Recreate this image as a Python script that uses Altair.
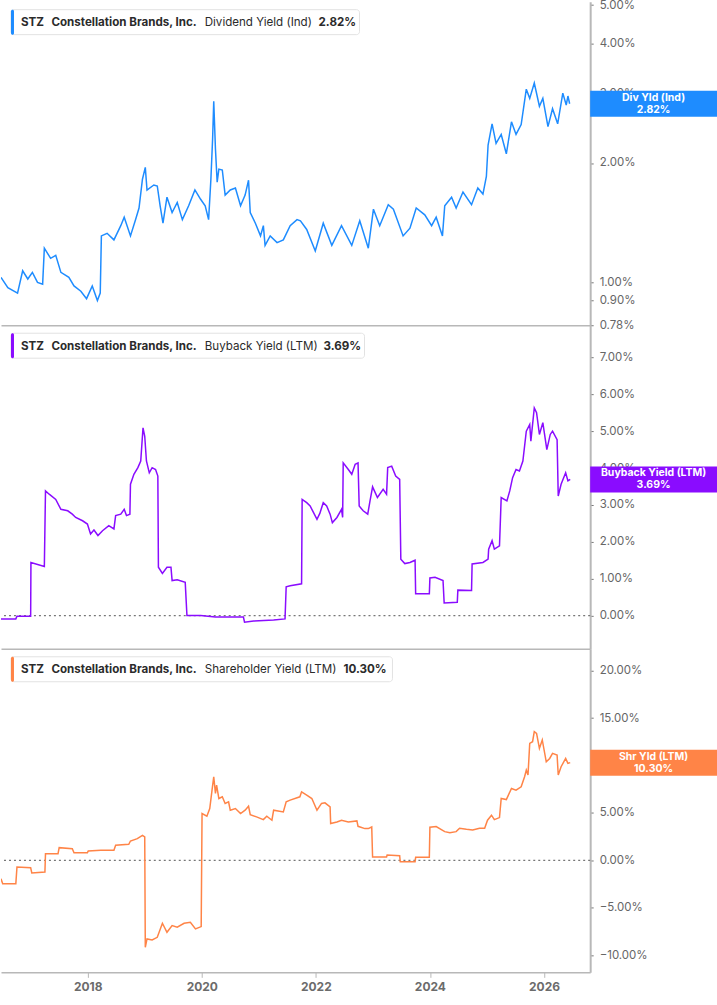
import altair as alt
import pandas as pd

# ---------------- data ----------------
TICKER = "STZ"
COMPANY = "Constellation Brands, Inc."

div_year = [2016.48, 2016.60, 2016.77, 2016.86, 2016.95, 2017.03, 2017.12, 2017.21, 2017.24, 2017.35,
            2017.44, 2017.53, 2017.67, 2017.76, 2017.88, 2017.98, 2018.08, 2018.17, 2018.22, 2018.24,
            2018.34, 2018.46, 2018.58, 2018.64, 2018.75, 2018.84, 2018.90, 2018.96, 2019.01, 2019.04,
            2019.16, 2019.22, 2019.27, 2019.32, 2019.39, 2019.48, 2019.57, 2019.66, 2019.77, 2019.88,
            2019.98, 2020.06, 2020.12, 2020.16, 2020.19, 2020.21, 2020.24, 2020.27, 2020.30, 2020.36,
            2020.41, 2020.50, 2020.59, 2020.68, 2020.76, 2020.82, 2020.85, 2020.94, 2021.03, 2021.08,
            2021.11, 2021.20, 2021.32, 2021.43, 2021.55, 2021.67, 2021.73, 2021.84, 2021.99, 2022.13,
            2022.28, 2022.45, 2022.63, 2022.77, 2022.92, 2023.01, 2023.12, 2023.27, 2023.36, 2023.53,
            2023.65, 2023.76, 2023.91, 2024.03, 2024.11, 2024.22, 2024.26, 2024.38, 2024.46, 2024.58,
            2024.73, 2024.84, 2024.93, 2024.99, 2025.02, 2025.09, 2025.16, 2025.25, 2025.34, 2025.43,
            2025.51, 2025.60, 2025.69, 2025.75, 2025.83, 2025.92, 2025.98, 2026.07, 2026.15, 2026.24,
            2026.33, 2026.39, 2026.42, 2026.45]
div_val = [1.03, 0.97, 0.94, 1.07, 1.02, 1.06, 1.00, 0.99, 1.22, 1.15,
           1.17, 1.06, 1.03, 0.98, 0.95, 0.91, 0.98, 0.90, 0.94, 1.31,
           1.33, 1.28, 1.39, 1.46, 1.31, 1.44, 1.54, 1.82, 1.95, 1.71,
           1.76, 1.75, 1.56, 1.41, 1.64, 1.50, 1.59, 1.44, 1.56, 1.71,
           1.62, 1.56, 1.44, 1.82, 2.30, 2.86, 2.17, 1.79, 1.93, 1.92,
           1.66, 1.71, 1.73, 1.56, 1.66, 1.81, 1.50, 1.41, 1.31, 1.39,
           1.24, 1.31, 1.26, 1.28, 1.39, 1.44, 1.43, 1.36, 1.20, 1.41,
           1.24, 1.39, 1.24, 1.43, 1.22, 1.53, 1.39, 1.57, 1.53, 1.31,
           1.37, 1.54, 1.48, 1.39, 1.46, 1.31, 1.56, 1.64, 1.54, 1.69,
           1.57, 1.73, 1.67, 1.85, 2.22, 2.51, 2.24, 2.36, 2.11, 2.54,
           2.36, 2.50, 3.07, 2.91, 3.18, 2.78, 2.91, 2.47, 2.74, 2.51,
           3.00, 2.80, 2.95, 2.82]

bb_year = [2016.48, 2016.74, 2016.76, 2017.00, 2017.005, 2017.24, 2017.26, 2017.325, 2017.44, 2017.53,
           2017.65, 2017.73, 2017.79, 2017.91, 2017.995, 2018.05, 2018.11, 2018.18, 2018.26, 2018.37,
           2018.46, 2018.49, 2018.58, 2018.64, 2018.68, 2018.74, 2018.75, 2018.81, 2018.88, 2018.93,
           2018.97, 2019.00, 2019.03, 2019.08, 2019.13, 2019.19, 2019.23, 2019.24, 2019.31, 2019.39,
           2019.46, 2019.48, 2019.57, 2019.71, 2019.74, 2019.98, 2020.24, 2020.73, 2020.75, 2020.91,
           2021.26, 2021.46, 2021.48, 2021.55, 2021.75, 2021.76, 2021.84, 2021.90, 2021.96, 2022.02,
           2022.07, 2022.13, 2022.19, 2022.25, 2022.29, 2022.37, 2022.45, 2022.47, 2022.48, 2022.57,
           2022.63, 2022.69, 2022.74, 2022.76, 2022.83, 2022.91, 2022.95, 2022.995, 2023.08, 2023.18,
           2023.24, 2023.26, 2023.33, 2023.40, 2023.47, 2023.49, 2023.56, 2023.65, 2023.74, 2023.75,
           2023.99, 2024.00, 2024.09, 2024.23, 2024.25, 2024.48, 2024.49, 2024.73, 2024.74, 2024.93,
           2025.02, 2025.03, 2025.09, 2025.13, 2025.22, 2025.25, 2025.35, 2025.40, 2025.45, 2025.51,
           2025.57, 2025.63, 2025.69, 2025.75, 2025.77, 2025.83, 2025.87, 2025.92, 2025.98, 2026.05,
           2026.11, 2026.15, 2026.23, 2026.25, 2026.30, 2026.38, 2026.42, 2026.46]
bb_val = [-0.09, -0.09, -0.02, -0.02, 1.44, 1.33, 3.38, 3.29, 3.15, 2.88,
          2.84, 2.75, 2.66, 2.57, 2.48, 2.21, 2.32, 2.17, 2.30, 2.44,
          2.35, 2.71, 2.75, 2.88, 2.71, 2.75, 3.56, 3.83, 4.01, 4.19,
          5.09, 4.86, 4.19, 3.87, 4.01, 3.96, 3.78, 1.31, 1.14, 1.31,
          1.31, 0.95, 0.97, 0.90, 0.00, 0.00, -0.04, -0.04, -0.18, -0.15,
          -0.12, -0.09, 0.78, 0.81, 0.86, 3.15, 3.06, 2.97, 2.79, 2.61,
          2.77, 3.06, 2.97, 2.75, 2.52, 2.66, 2.88, 2.66, 4.14, 3.96,
          3.83, 4.10, 4.14, 2.97, 2.84, 2.75, 3.11, 3.49, 3.20, 3.42,
          3.29, 4.01, 4.05, 3.78, 3.69, 1.53, 1.41, 1.44, 1.50, 0.59,
          0.59, 1.02, 1.04, 0.95, 0.34, 0.36, 0.69, 0.68, 1.40, 1.44,
          1.53, 1.80, 2.03, 1.80, 1.89, 3.20, 3.11, 3.38, 3.74, 3.96,
          3.92, 4.19, 5.00, 5.18, 4.73, 5.63, 5.50, 4.91, 5.23, 4.50,
          4.91, 5.00, 4.77, 3.24, 3.56, 3.87, 3.65, 3.69]

shr_year = [2016.48, 2016.51, 2016.74, 2016.76, 2017.00, 2017.02, 2017.25, 2017.26, 2017.48, 2017.50,
            2017.73, 2017.76, 2017.995, 2018.01, 2018.23, 2018.46, 2018.49, 2018.72, 2018.75, 2018.87,
            2018.96, 2019.00, 2019.01, 2019.04, 2019.13, 2019.22, 2019.31, 2019.39, 2019.48, 2019.57,
            2019.69, 2019.80, 2019.89, 2019.99, 2020.005, 2020.09, 2020.14, 2020.18, 2020.21, 2020.24,
            2020.26, 2020.30, 2020.36, 2020.41, 2020.47, 2020.50, 2020.59, 2020.68, 2020.76, 2020.82,
            2020.85, 2020.96, 2021.08, 2021.14, 2021.23, 2021.26, 2021.43, 2021.48, 2021.55, 2021.72,
            2021.75, 2021.84, 2021.93, 2022.02, 2022.10, 2022.16, 2022.25, 2022.26, 2022.37, 2022.45,
            2022.57, 2022.72, 2022.74, 2022.86, 2022.92, 2022.98, 2022.995, 2023.24, 2023.25, 2023.47,
            2023.48, 2023.74, 2023.75, 2023.99, 2024.00, 2024.11, 2024.26, 2024.35, 2024.46, 2024.52,
            2024.64, 2024.75, 2024.87, 2024.96, 2025.01, 2025.08, 2025.13, 2025.22, 2025.25, 2025.34,
            2025.43, 2025.51, 2025.60, 2025.66, 2025.69, 2025.72, 2025.75, 2025.80, 2025.83, 2025.87,
            2025.92, 2025.97, 2026.04, 2026.10, 2026.15, 2026.23, 2026.25, 2026.30, 2026.38, 2026.42,
            2026.46]
shr_val = [-1.94, -2.47, -2.47, -0.70, -0.77, -1.33, -1.22, 0.70, 0.70, 1.34,
           1.23, 0.81, 0.81, 0.99, 1.06, 1.06, 1.59, 1.69, 2.04, 2.29,
           2.64, 2.47, -9.16, -8.28, -8.39, -8.11, -6.63, -7.58, -6.87, -7.05,
           -6.63, -6.52, -7.22, -6.98, 4.93, 4.65, 5.46, 7.40, 8.81, 7.05,
           7.93, 6.52, 6.70, 6.00, 6.17, 5.29, 5.46, 4.93, 5.29, 5.71,
           4.82, 4.58, 4.30, 4.65, 4.23, 5.29, 5.11, 6.17, 6.35, 6.70,
           7.22, 6.87, 6.52, 5.29, 6.00, 6.06, 5.64, 3.88, 4.05, 4.23,
           4.05, 4.16, 3.59, 3.35, 3.35, 3.52, 0.35, 0.35, 0.56, 0.49,
           -0.14, -0.14, 0.32, 0.32, 3.49, 3.56, 3.03, 2.92, 3.03, 3.38,
           3.28, 3.21, 3.38, 3.38, 4.23, 4.76, 4.30, 4.51, 6.52, 6.41,
           7.58, 7.40, 7.75, 8.81, 9.51, 8.99, 12.33, 12.51, 13.57, 13.39,
           11.80, 12.69, 10.39, 10.74, 11.28, 11.10, 8.99, 9.87, 10.74, 10.22,
           10.30]

metric_names = ["Dividend Yield (Ind)", "Buyback Yield (LTM)", "Shareholder Yield (LTM)"]
short_names = ["Div Yld (Ind)", "Buyback Yield (LTM)", "Shr Yld (LTM)"]
colors = ["#1e8cff", "#8a0cff", "#ff8447"]

div_ticks = [0.78, 0.9, 1, 2, 3, 4, 5]
bb_ticks = [0, 1, 2, 3, 4, 5, 6, 7]
shr_ticks = [-10, -5, 0, 5, 10, 15, 20]
year_ticks = [2018, 2020, 2022, 2024, 2026]

# ---------------- layout / style ----------------
X_DOMAIN = [2016.48, 2026.81]
W, H = 590, 324
FONT = "Inter"
GREY = "#b8b8b8"


def make_panel(years, values, color, yscale, yticks, metric, short, box_right,
               metric_x, value_x, zero, bottom):
    df = pd.DataFrame({"year": years, "value": values})
    last = pd.DataFrame({"year": [years[-1]], "value": [values[-1]],
                         "label": [short], "vtxt": [f"{values[-1]:.2f}%"]})
    one = pd.DataFrame({"k": [0]})

    xaxis = alt.Axis(values=year_ticks, format="d", labels=bottom, ticks=bottom,
                     domain=True, domainColor=GREY, domainWidth=1.5, grid=False,
                     title=None, labelFont=FONT, labelFontSize=12,
                     labelFontWeight="bold", labelColor="#6b6b6b",
                     tickColor=GREY, tickSize=5, labelPadding=4)
    x = alt.X("year:Q", scale=alt.Scale(domain=X_DOMAIN, nice=False, zero=False),
              axis=xaxis)
    yaxis = alt.Axis(orient="right", values=yticks,
                     labelExpr="format(datum.value, '.2f') + '%'",
                     grid=False, title=None, domainColor=GREY, domainWidth=2,
                     tickColor="#777777", tickSize=3, labelFont=FONT,
                     labelFontSize=11.5, labelColor="#666666", labelPadding=6)
    y = alt.Y("value:Q", scale=yscale, axis=yaxis)

    layers = []
    if zero:
        layers.append(
            alt.Chart(one).mark_rule(color="#777777", strokeDash=[2, 3], strokeWidth=1.2)
            .encode(y=alt.datum(0))
        )
    layers.append(
        alt.Chart(df).mark_line(color=color, strokeWidth=1.5, clip=True).encode(x=x, y=y)
    )
    # legend box
    layers.append(
        alt.Chart(one).mark_rect(fill="white", stroke="#e2e2e2", strokeWidth=1, cornerRadius=3)
        .encode(x=alt.value(10), x2=alt.value(box_right), y=alt.value(8), y2=alt.value(33))
    )
    layers.append(
        alt.Chart(one).mark_rect(fill=color, cornerRadius=1.5)
        .encode(x=alt.value(10), x2=alt.value(13), y=alt.value(8), y2=alt.value(33))
    )
    txt = dict(align="left", baseline="middle", font=FONT, fontSize=11.6, color="#2b2b2b")
    for label, xpos, weight in [(TICKER, 20, "bold"), (COMPANY, 50.5, "bold"),
                                (metric, metric_x, "normal"),
                                (f"{values[-1]:.2f}%", value_x, "bold")]:
        layers.append(
            alt.Chart(one).mark_text(text=label, fontWeight=weight, **txt)
            .encode(x=alt.value(xpos), y=alt.value(21.5))
        )
    # last value flag on the right axis
    layers.append(
        alt.Chart(last).mark_tick(orient="horizontal", size=127, thickness=26,
                                  color=color, opacity=1)
        .encode(x=alt.value(653.5), y=alt.Y("value:Q"))
    )
    for field, dy in [("label", -6), ("vtxt", 6)]:
        layers.append(
            alt.Chart(last).mark_text(color="white", font=FONT, fontWeight="bold",
                                      fontSize=10.5, dy=dy, baseline="middle")
            .encode(x=alt.value(653.5), y=alt.Y("value:Q"), text=f"{field}:N")
        )
    return alt.layer(*layers).properties(width=W, height=H)


p1 = make_panel(div_year, div_val, colors[0],
                alt.Scale(type="log", domain=[0.78, 5.1], nice=False),
                div_ticks, metric_names[0], short_names[0], 359, 204, 318, False, False)
p2 = make_panel(bb_year, bb_val, colors[1],
                alt.Scale(domain=[-0.9, 7.87], nice=False, zero=False),
                bb_ticks, metric_names[1], short_names[1], 364, 204, 323, True, False)
p3 = make_panel(shr_year, shr_val, colors[2],
                alt.Scale(domain=[-11.8, 22.3], nice=False, zero=False),
                shr_ticks, metric_names[2], short_names[2], 392, 204, 343, True, True)

chart = (
    alt.vconcat(p1, p2, p3, spacing=0, bounds="flush")
    .resolve_scale(y="independent")
    .configure_view(stroke=None)
    .properties(padding={"left": 0, "top": -2, "right": 0, "bottom": 0},
                background="white")
)

chart.save("out.html", embed_options={"renderer": "svg", "actions": False})
